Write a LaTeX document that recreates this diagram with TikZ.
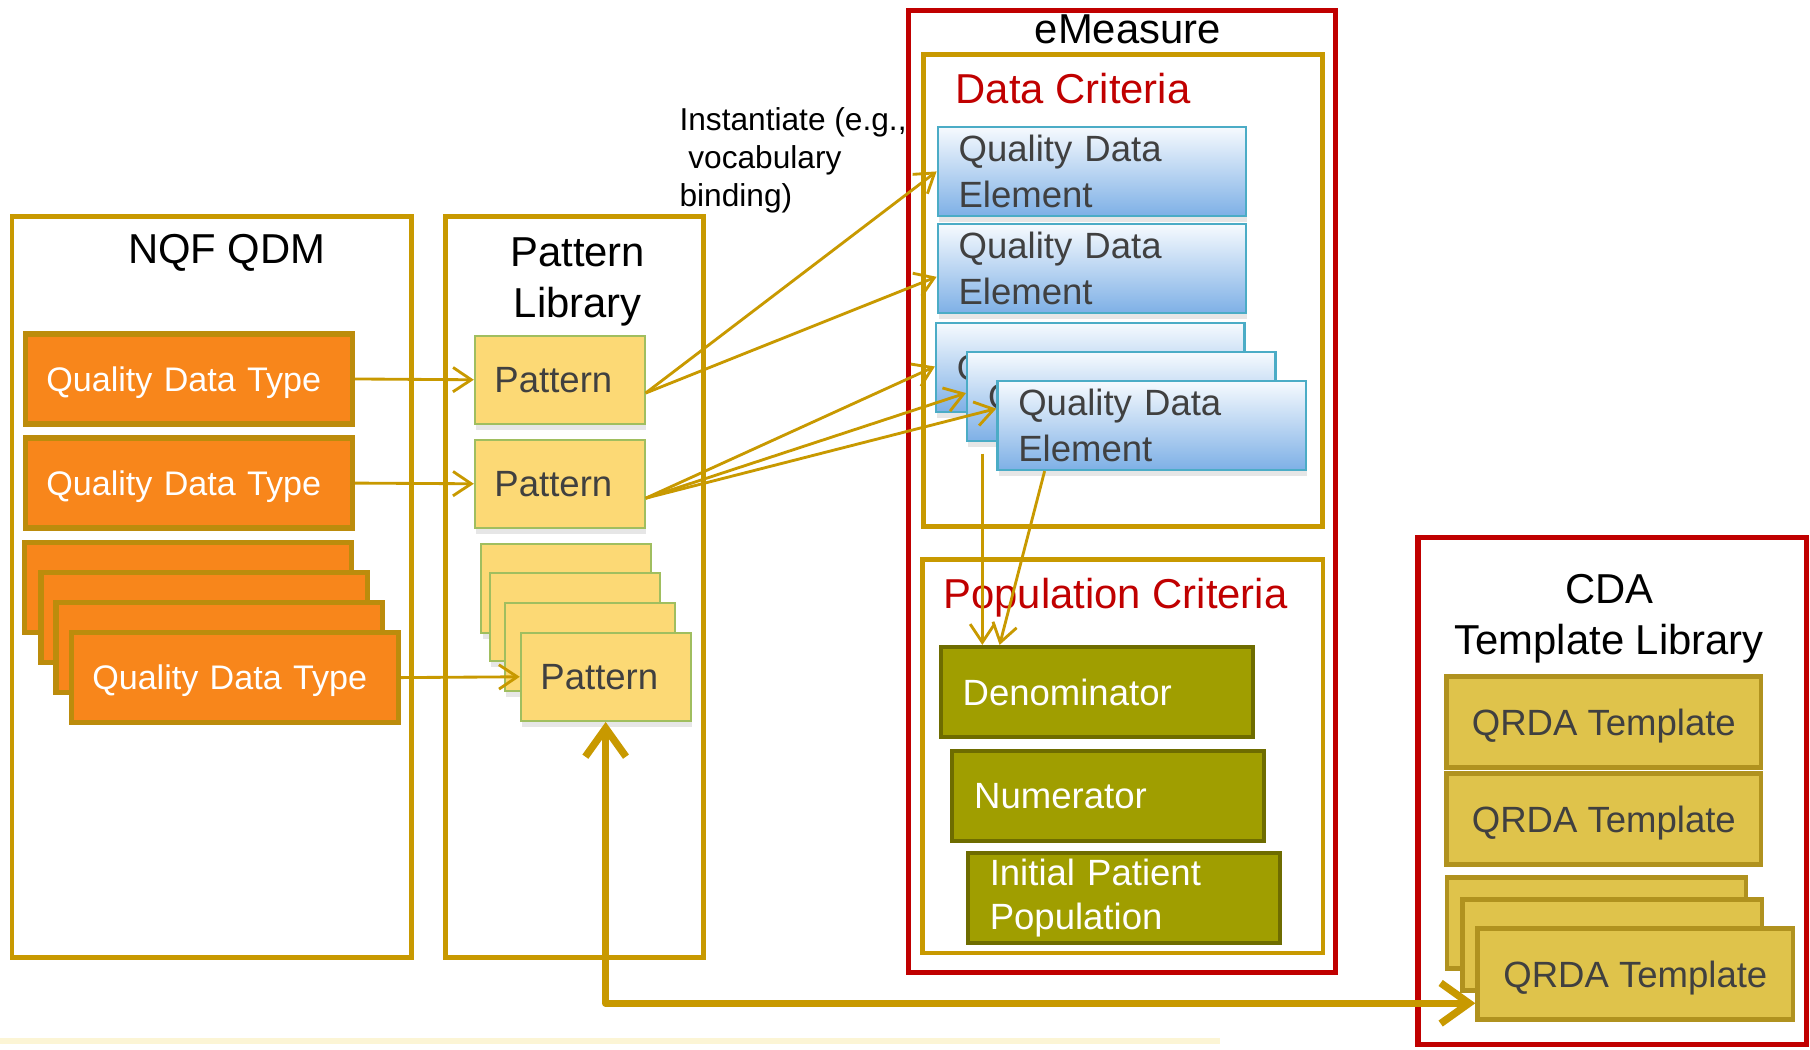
\documentclass[tikz,border=0pt]{standalone}
\usepackage{fontspec}
\setmainfont{Liberation Sans}
\usetikzlibrary{arrows.meta,shadows}

\definecolor{gold}{RGB}{200,153,0}
\definecolor{emred}{RGB}{192,0,0}
\definecolor{qdtfill}{RGB}{248,134,27}
\definecolor{qdtedge}{RGB}{188,140,12}
\definecolor{patfill}{RGB}{252,217,117}
\definecolor{patedge}{RGB}{160,190,95}
\definecolor{qdetop}{RGB}{246,250,254}
\definecolor{qdebot}{RGB}{126,176,230}
\definecolor{qdeedge}{RGB}{75,172,198}
\definecolor{popfill}{RGB}{160,158,0}
\definecolor{popedge}{RGB}{110,108,0}
\definecolor{qrdafill}{RGB}{223,195,75}
\definecolor{qrdaedge}{RGB}{176,146,31}
\definecolor{boxtext}{RGB}{64,64,64}
\definecolor{stripe}{RGB}{250,238,185}

\begin{document}
\begin{tikzpicture}[x=0.01cm, y=-0.01cm,
        goldframe/.style={draw=gold, line width=1.2pt, inner sep=0pt},
        redframe/.style={draw=emred, line width=1.25pt, inner sep=0pt},
        title/.style={inner sep=0pt, font=\fontsize{10.3}{12.6}\selectfont, align=center},
        qdtbox/.style={draw=qdtedge, fill=qdtfill, line width=1.35pt, text=white, font=\fontsize{8.4}{10}\selectfont,
            align=left, text width=2.47cm, inner xsep=0.18cm, inner ysep=0pt, minimum height=0.78cm, text depth=0pt},
        patbox/.style={draw=patedge, fill=patfill, line width=0.5pt, text=boxtext, font=\fontsize{9}{11}\selectfont,
            align=left, text width=1.13cm, inner xsep=0.17cm, inner ysep=0pt, minimum height=0.765cm,
            drop shadow={shadow xshift=0.3pt, shadow yshift=-1.5pt, opacity=0.2}},
        qdebox/.style={draw=qdeedge, top color=qdetop, bottom color=qdebot, line width=0.6pt, text=boxtext,
            font=\fontsize{9}{11.3}\selectfont, align=left, text width=2.31cm, inner xsep=0.18cm, inner ysep=0pt,
            minimum height=0.77cm, drop shadow={shadow xshift=0.3pt, shadow yshift=-1.5pt, opacity=0.2}},
        popbox/.style={draw=popedge, fill=popfill, line width=1pt, text=white, font=\fontsize{9}{10.7}\selectfont,
            align=left, text width=2.32cm, inner xsep=0.19cm, inner ysep=0pt, minimum height=0.78cm},
        qrdabox/.style={draw=qrdaedge, fill=qrdafill, line width=1.15pt, text=boxtext, font=\fontsize{9}{11}\selectfont,
            align=center, inner sep=0pt, minimum width=2.72cm, minimum height=0.79cm, text depth=0pt},
        link/.style={draw=gold, line width=0.7pt, -{Straight Barb[length=4.5pt,width=6pt]}},
        bothlink/.style={draw=gold, line width=1.8pt, line join=round,
            {Straight Barb[length=7pt,width=10pt]}-{Straight Barb[length=7pt,width=10pt]}}]
    \useasboundingbox (0,0) rectangle (1568,909);
    \fill[stripe, opacity=0.6] (0,899) rectangle (1057,904);

    % frames
    \node[goldframe, minimum width=3.46cm, minimum height=6.41cm] (nqf) at (183.5,508.5) {};
    \node[goldframe, minimum width=2.23cm, minimum height=6.41cm] (patlib) at (497.5,508.5) {};
    \node[redframe, minimum width=3.70cm, minimum height=8.33cm] (emeasure) at (972,426) {};
    \node[goldframe, minimum width=3.45cm, minimum height=4.09cm] (datacrit) at (973,251.8) {};
    \node[goldframe, minimum width=3.465cm, minimum height=3.41cm] (popcrit) at (972.8,655) {};
    \node[redframe, minimum width=3.36cm, minimum height=4.39cm] (cdalib) at (1396.5,685.5) {};

    % titles
    \node[title] (nqftitle) at (196.5,219) {NQF QDM};
    \node[title] (pattitle) at (500.5,244.4) {Pattern\\Library};
    \node[title] (emtitle) at (977,25.6) {eMeasure};
    \node[title, text=emred, anchor=west] (dctitle) at (827.3,76.7) {Data Criteria};
    \node[title, text=emred, anchor=west] (pctitle) at (816.7,517.6) {Population Criteria};
    \node[title] (cdatitle) at (1394,536.3) {CDA\\Template Library};
    \node[inner sep=0pt, font=\fontsize{7.8}{9.45}\selectfont, align=left, anchor=west] (instlabel) at (588,139)
        {Instantiate (e.g.,\\~vocabulary\\binding)};

    % quality data types
    \node[qdtbox] (qdt1) at (163.7,328.3) {Quality Data Type};
    \node[qdtbox] (qdt2) at (163.7,418.5) {Quality Data Type};
    \node[qdtbox] (qdt3a) at (163,509) {};
    \node[qdtbox] (qdt3b) at (177,535) {};
    \node[qdtbox] (qdt3c) at (190,561) {};
    \node[qdtbox] (qdt3d) at (203.5,587) {Quality Data Type};

    % patterns
    \node[patbox] (pat1) at (484.9,329) {Pattern};
    \node[patbox] (pat2) at (484.9,419.1) {Pattern};
    \node[patbox] (pat3a) at (490.5,509.9) {};
    \node[patbox] (pat3b) at (497.8,534.5) {};
    \node[patbox] (pat3c) at (511.1,560.3) {};
    \node[patbox] (pat3d) at (524.7,586.3) {Pattern};

    % data elements
    \node[qdebox] (qde1) at (946,148.5) {Quality Data\\Element};
    \node[qdebox] (qde2) at (946,232.8) {Quality Data\\Element};
    \node[qdebox, text depth=0pt] (qde3a) at (944.5,318.5) {Q};
    \node[qdebox, text depth=0pt] (qde3b) at (971.5,343.5) {Q};
    \node[qdebox] (qde3c) at (997.7,368.5) {Quality Data\\Element};

    % population criteria
    \node[popbox] (denom) at (950,599.5) {Denominator};
    \node[popbox] (numer) at (960,689.5) {Numerator};
    \node[popbox] (ipp) at (973.5,778) {Initial Patient\\Population};

    % templates
    \node[qrdabox] (qrda1) at (1389.4,625.5) {QRDA Template};
    \node[qrdabox] (qrda2) at (1389.4,709.5) {QRDA Template};
    \node[qrdabox, minimum width=2.59cm] (qrda3a) at (1383,799.7) {};
    \node[qrdabox, minimum width=2.59cm] (qrda3b) at (1396.8,818.7) {};
    \node[qrdabox, minimum width=2.73cm] (qrda3c) at (1416.7,843.6) {QRDA Template};

    % links
    \draw[link] (qdt1.east) -- (pat1.west);
    \draw[link] (qdt2.east) -- (pat2.west);
    \draw[link] (qdt3d.east) -- (pat3d.west);
    \draw[link] ([yshift=-0.115cm]pat1.east) -- (qde1.west);
    \draw[link] ([yshift=-0.115cm]pat1.east) -- ([yshift=-0.07cm]qde2.west);
    \draw[link] ([yshift=-0.125cm]pat2.east) -- ([yshift=0.01cm]qde3a.west);
    \draw[link] ([yshift=-0.125cm]pat2.east) -- ([yshift=0.03cm]qde3b.west);
    \draw[link] ([yshift=-0.125cm]pat2.east) -- ([yshift=0.145cm]qde3c.west);
    \coordinate (dcout) at (851,393);
    \draw[link] (dcout) -- (dcout |- denom.north);
    \draw[link] ([xshift=-0.927cm]qde3c.south) -- ([xshift=-0.84cm]denom.north);
    \draw[bothlink] (pat3d.south) |- ([yshift=-0.255cm]qrda3c.west);
\end{tikzpicture}
\end{document}
